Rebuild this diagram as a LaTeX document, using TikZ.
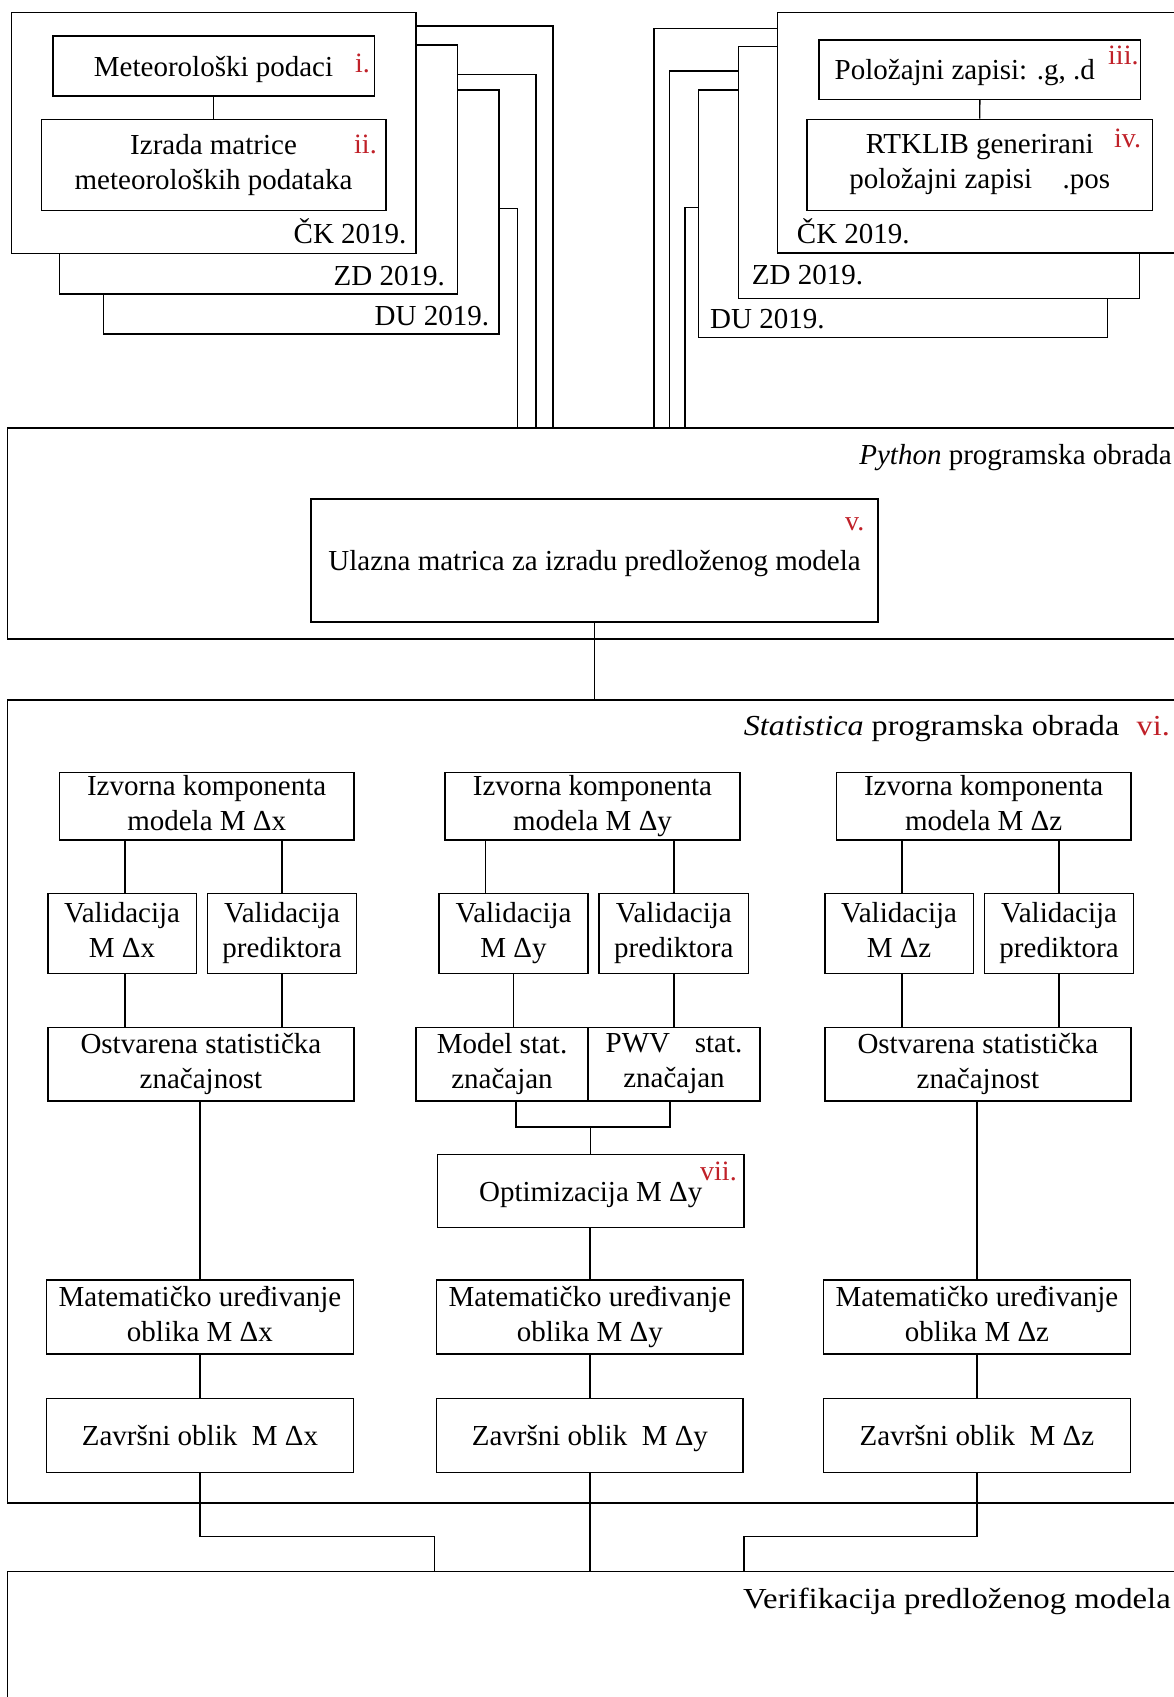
\documentclass[tikz,border=0pt]{standalone}
\usepackage{fontspec}
\setmainfont{Liberation Serif}
\newfontfamily\sirokiS[FakeStretch=1.11]{Liberation Serif}
\newfontfamily\sirokiV[FakeStretch=1.13]{Liberation Serif}
\usepackage{xcolor}
\definecolor{oznaka}{RGB}{192,32,40}
\newcommand{\tekst}{\fontsize{29}{35}\selectfont}
\newcommand{\oznakafont}{\fontsize{28}{32}\selectfont}

\begin{document}
\begin{tikzpicture}[x=1pt, y=-1pt,
        box/.style={draw=black, fill=white, line width=1.4pt, align=center, inner sep=0pt, font=\tekst,
            execute at begin node={\rule{0pt}{26.5pt}}, execute at end node={\rule[-6.5pt]{0pt}{6.5pt}}},
        veza/.style={draw=black, line width=1.4pt},
        natpis/.style={font=\tekst, inner sep=0pt},
        broj/.style={font=\oznakafont, text=oznaka, inner sep=0pt, anchor=base west}]
        \clip (0,0) rectangle (1174,1697);
        \newcommand{\blok}[6]{
            \node[box, minimum width={(#4-#2)*1pt}, minimum height={(#5-#3)*1pt}] (#1) at ({(#2+#4)/2},{(#3+#5)/2}) {#6};
        }
        \newcommand{\stupac}[3]{
            \begin{scope}[shift={(#2,0)}]
                \blok{iz#1}{59.3}{772.3}{354}{840}{Izvorna komponenta\\modela M Δ#3}
                \blok{vm#1}{47.8}{893.3}{196.3}{973.3}{Validacija\\M Δ#3}
                \blok{vp#1}{207.4}{893.3}{356.7}{973.3}{Validacija\\prediktora}
                \blok{os#1}{47.8}{1027.3}{354}{1101}{Ostvarena statistička\\značajnost}
                \blok{mu#1}{46.4}{1280}{353.5}{1354}{Matematičko uređivanje\\oblika M Δ#3}
                \blok{za#1}{46.4}{1398.5}{353.5}{1472.5}{Završni oblik\ \ M Δ#3}
            \end{scope}
            \draw[veza] ([xshift=3pt]vm#1.north) -- ([xshift=3pt]vm#1.north |- iz#1.south);
            \draw[veza] (vp#1.north) -- (vp#1.north |- iz#1.south);
            \draw[veza] ([xshift=3pt]vm#1.south) -- ([xshift=3pt]vm#1.south |- os#1.north);
            \draw[veza] (vp#1.south) -- (vp#1.south |- os#1.north);
            \draw[veza] (mu#1.north |- os#1.south) -- (mu#1.north);
            \draw[veza] (mu#1.south) -- (za#1.north);
        }

        % ulazni podaci, lijevo
        \blok{dul}{103.3}{90}{498.8}{334}{}
        \blok{zdl}{59.3}{45}{457.3}{294}{}
        \blok{ckl}{11.5}{12.7}{416}{253.5}{}
        \blok{met}{52.8}{36}{374.3}{96}{Meteorološki podaci}
        \blok{izr}{41.3}{119.3}{385.8}{210.7}{Izrada matrice\\meteoroloških podataka}
        \draw[veza] (met.south) -- (izr.north);
        \node[natpis, anchor=base east] (ckllab) at (406.7,243.3) {ČK 2019.};
        \node[natpis, anchor=base east] (zdllab) at (445,285) {ZD 2019.};
        \node[natpis, anchor=base east] (dullab) at (489.3,325) {DU 2019.};
        \node[broj] (bri) at (355,72) {i.};
        \node[broj] (brii) at (354,153) {ii.};

        % ulazni podaci, desno
        \blok{dud}{698.5}{90}{1107.6}{337.5}{}
        \blok{zdd}{738.2}{46.7}{1139.2}{298.5}{}
        \blok{ckd}{777.5}{12.7}{1200}{253}{}
        \blok{pol}{819}{40}{1140.6}{99.3}{Položajni zapisi: .g, .d\hspace*{30pt}}
        \blok{rtk}{806.8}{119.3}{1152.7}{210.7}{RTKLIB generirani\\položajni zapisi\hspace{0.8em} .pos}
        \draw[veza] (pol.south) -- (rtk.north);
        \node[natpis, anchor=base west] (ckdlab) at (796.7,243.3) {ČK 2019.};
        \node[natpis, anchor=base west] (zddlab) at (751.7,284) {ZD 2019.};
        \node[natpis, anchor=base west] (dudlab) at (710,328.3) {DU 2019.};
        \node[broj] (briii) at (1108,64) {iii.};
        \node[broj] (briv) at (1114,147) {iv.};

        % Python
        \blok{pyfr}{7.5}{428}{1200}{639}{}
        \node[natpis, anchor=base east] (pylab) at (1172,464) {\textit{Python} programska obrada};
        \blok{ulz}{311}{499}{878}{622}{Ulazna matrica za izradu predloženog modela}
        \node[broj] (brv) at (845,530) {v.};
        \coordinate (ul1) at (517.4,428);
        \coordinate (ul2) at (535.8,428);
        \coordinate (ul3) at (553,428);
        \coordinate (ud1) at (654,428);
        \coordinate (ud2) at (669.5,428);
        \coordinate (ud3) at (685,428);
        \draw[veza] ([yshift=-14pt]ckl.north east) -| (ul3);
        \draw[veza] ([yshift=-30pt]zdl.north east) -| (ul2);
        \draw[veza] ([yshift=-119.3pt]dul.north east) -| (ul1);
        \draw[veza] ([yshift=-16.6pt]ckd.north west) -| (ud1);
        \draw[veza] ([yshift=-25pt]zdd.north west) -| (ud2);
        \draw[veza] ([yshift=-118.3pt]dud.north west) -| (ud3);

        % Statistica
        \blok{stfr}{7.5}{700}{1200}{1503}{}
        \node[natpis, anchor=base east, font=\tekst\sirokiS] (stlab) at (1170,735) {\textit{Statistica} programska obrada\hspace{0.6em}\textcolor{oznaka}{vi.}};
        \draw[veza] (ulz.south) -- (ulz.south |- stfr.north);
        \stupac{x}{0}{x}
        \stupac{z}{777}{z}

        % srednji stupac
        \blok{izy}{445}{772.3}{740}{840}{Izvorna komponenta\\modela M Δy}
        \blok{vmy}{439}{893.3}{588}{973.3}{Validacija\\M Δy}
        \blok{vpy}{599}{893.3}{748.6}{973.3}{Validacija\\prediktora}
        \blok{msy}{416}{1027.3}{588}{1101}{Model stat.\\značajan}
        \blok{pwy}{588}{1027.3}{760}{1101}{PWV\hspace{0.6em} stat.\\značajan}
        \blok{opy}{437.4}{1154.3}{744}{1227.7}{Optimizacija M Δy}
        \blok{muy}{436.7}{1280}{743}{1354}{Matematičko uređivanje\\oblika M Δy}
        \blok{zay}{436.7}{1398.5}{743}{1472.5}{Završni oblik\ \ M Δy}
        \node[broj] (brvii) at (700,1180) {vii.};
        \draw[veza] ([xshift=-28pt]vmy.north) -- ([xshift=-28pt]vmy.north |- izy.south);
        \draw[veza] (vpy.north) -- (vpy.north |- izy.south);
        \draw[veza] (vmy.south) -- (vmy.south |- msy.north);
        \draw[veza] (vpy.south) -- (vpy.south |- pwy.north);
        \path (opy.north) ++(0,-26.6) coordinate (yspoj);
        \draw[veza] ([xshift=14pt]msy.south) |- (yspoj) -| ([xshift=-4pt]pwy.south);
        \draw[veza] (yspoj) -- (opy.north);
        \draw[veza] (muy.north |- opy.south) -- (muy.north);
        \draw[veza] (muy.south) -- (zay.north);

        % Verifikacija
        \blok{verfr}{7.5}{1571.7}{1200}{1740}{}
        \node[natpis, anchor=base east, font=\tekst\sirokiV] (verlab) at (1171,1608) {Verifikacija predloženog modela};
        \coordinate (vx) at (434.4,1571.7);
        \coordinate (vz) at (743.8,1571.7);
        \draw[veza] (zax.south) -- ++(0,63.5) -| (vx);
        \draw[veza] (zay.south) -- (zay.south |- verfr.north);
        \draw[veza] (zaz.south) -- ++(0,63.5) -| (vz);
    \end{tikzpicture}
\end{document}
